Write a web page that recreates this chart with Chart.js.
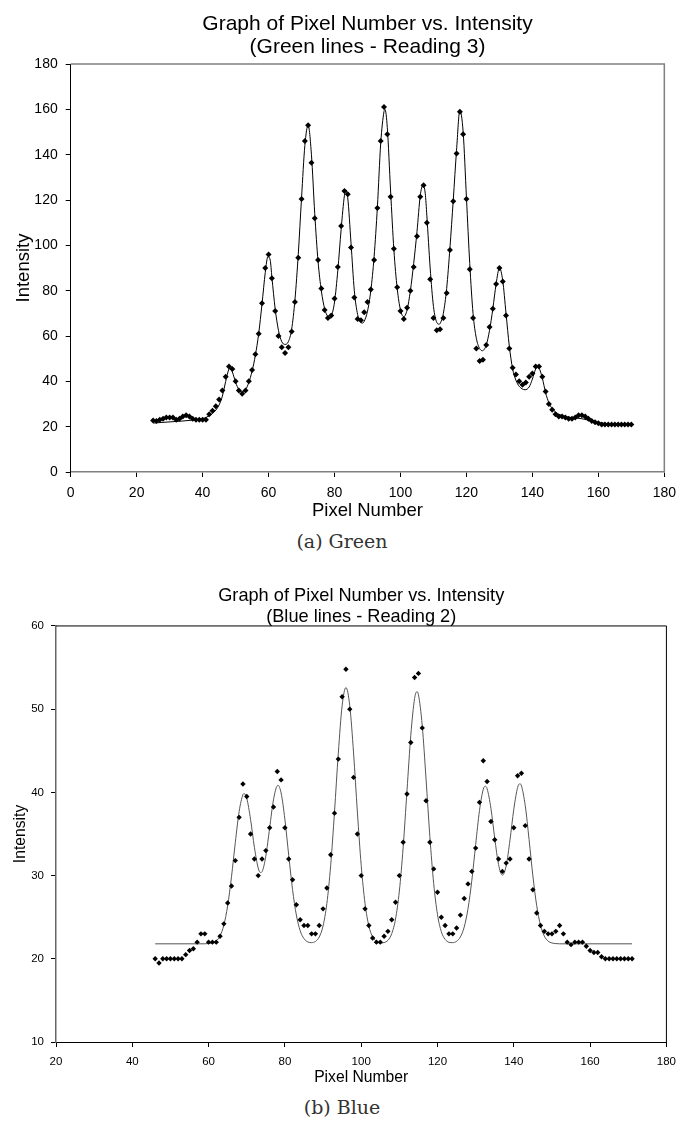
<!DOCTYPE html>
<html>
<head>
    <meta charset="utf-8">
    <title>Graph of Pixel Number vs. Intensity</title>
    <script src="https://cdn.jsdelivr.net/npm/chart.js"></script>
    <style>
        body { margin: 0; background: #fff; width: 684px; height: 1124px; position: relative; overflow: hidden; }
        .chartBox { position: absolute; left: 0; width: 684px; }
        #greenBox { top: 0; height: 522px; }
        #blueBox { top: 560px; height: 528px; }
        .caption { position: absolute; left: 0; width: 684px; text-align: center; font-family: "DejaVu Serif", serif; font-size: 19px; line-height: 22px; color: #333; }
    </style>
</head>
<body>
    <div class="chartBox" id="greenBox"><canvas id="greenChart" width="684" height="522"></canvas></div>
    <div class="caption" style="top:530px">(a) Green</div>
    <div class="chartBox" id="blueBox"><canvas id="blueChart" width="684" height="528"></canvas></div>
    <div class="caption" style="top:1096px">(b) Blue</div>

    <script>
        // Green lines - reading 3 (measured points)
        var greenPixel = [25, 26, 27, 28, 29, 30, 31, 32, 33, 34,
            35, 36, 37, 38, 39, 40, 41, 42, 43, 44,
            45, 46, 47, 48, 49, 50, 51, 52, 53, 54,
            55, 56, 57, 58, 59, 60, 61, 62, 63, 64,
            65, 66, 67, 68, 69, 70, 71, 72, 73, 74,
            75, 76, 77, 78, 79, 80, 81, 82, 83, 84,
            85, 86, 87, 88, 89, 90, 91, 92, 93, 94,
            95, 96, 97, 98, 99, 100, 101, 102, 103, 104,
            105, 106, 107, 108, 109, 110, 111, 112, 113, 114,
            115, 116, 117, 118, 119, 120, 121, 122, 123, 124,
            125, 126, 127, 128, 129, 130, 131, 132, 133, 134,
            135, 136, 137, 138, 139, 140, 141, 142, 143, 144,
            145, 146, 147, 148, 149, 150, 151, 152, 153, 154,
            155, 156, 157, 158, 159, 160, 161, 162, 163, 164,
            165, 166, 167, 168, 169, 170];
        var greenIntensity = [22.7, 22.5, 23, 23.5, 24, 24, 24, 23, 23.5, 24.5,
            25, 24.5, 23.5, 23, 23, 23, 23, 25.5, 27, 29,
            32, 36, 42, 46.5, 45.5, 40, 36, 34.5, 36, 40,
            45, 52, 61, 74.5, 90, 96, 85.5, 71, 60, 55,
            52.5, 55, 62, 75, 94.5, 120.5, 146, 153, 136.5, 112,
            93.5, 81, 71.5, 68, 69, 76.5, 90.5, 108.5, 124, 122.5,
            99, 77, 67.5, 67, 70.5, 75, 80.5, 93.5, 116.5, 146,
            161, 149, 121.5, 98.5, 81.5, 71, 67.5, 72.5, 80, 90.5,
            104, 121.5, 126.5, 110, 85, 68, 62.5, 63, 68, 79,
            98, 119.5, 140.5, 159, 149, 120.5, 89.5, 68, 54.5, 49,
            49.5, 56, 64, 72, 83, 90, 84, 69, 54.5, 46,
            43, 40, 38.5, 39.5, 42, 43.5, 46.5, 46.5, 42, 35.5,
            30, 27.5, 25.5, 24.5, 24.5, 24, 23.5, 23.5, 24, 25,
            25, 24.5, 23.5, 22.5, 22, 21.5, 21, 21, 21, 21,
            21, 21, 21, 21, 21, 21];

        // Green fitted curve
        var greenFitPixel = [25, 28, 31, 34, 37, 40, 42, 43, 44, 45,
            46, 47, 48, 48.3, 49, 50, 51, 52, 53, 54,
            55, 56, 57, 58, 59, 59.8, 60.5, 61, 62, 63,
            64, 65, 66, 67, 68, 69, 70, 71, 72, 73,
            74, 75, 76, 77, 78, 78.7, 79, 80, 81, 82,
            83, 83.4, 84, 85, 86, 87, 88, 88.5, 89, 90,
            91, 92, 93, 94, 95, 95.3, 96, 97, 98, 99,
            100, 101, 102, 103, 104, 105, 106, 106.8, 107.5, 108,
            109, 110, 111, 111.7, 112, 113, 114, 115, 116, 117,
            118, 119, 120, 121, 122, 123, 124, 124.8, 126, 127,
            128, 129, 130, 131, 132, 133, 134, 135, 136, 137.8,
            139, 140, 141, 141.6, 142, 143, 144, 145, 146, 147,
            148, 150, 152, 155, 158, 160, 165, 170];
        var greenFitIntensity = [21.6, 21.9, 22.2, 22.5, 22.9, 23.5, 24.8, 25.8, 27.3, 29.6,
            33.5, 40, 45.5, 45.8, 44.2, 39.6, 36.3, 35.3, 36.2, 39.5,
            44.5, 51.5, 61, 74, 88, 95, 93.5, 86, 72, 62.5,
            57.5, 56.3, 57.5, 63, 76, 96, 121, 144, 153, 140,
            114, 93, 80, 72, 68.5, 67.8, 68.5, 75, 89, 107,
            122, 124.5, 121, 101, 80, 69.5, 66, 65.7, 66.5, 71,
            80, 95, 117, 145, 159, 160, 152, 124, 98, 81,
            71.5, 68.5, 71.5, 80, 92, 106, 122, 126.5, 123, 113,
            90, 73, 66, 65.2, 65.5, 70, 81, 99, 120, 142,
            159.5, 150, 121, 92, 70, 59, 54.5, 53.5, 56, 62.5,
            72, 83, 90, 84.5, 70, 55.5, 45.5, 40.5, 37.8, 36.3,
            37.5, 41, 45.5, 46.6, 46, 41.5, 35, 30.5, 28, 26.5,
            25.5, 24.5, 24, 23.5, 22.5, 21.8, 21.2, 21];

        // Blue lines - reading 2 (measured points)
        var bluePixel = [46, 47, 48, 49, 50, 51, 52, 53, 54, 55,
            56, 57, 58, 59, 60, 61, 62, 63, 64, 65,
            66, 67, 68, 69, 70, 71, 72, 73, 74, 75,
            76, 77, 78, 79, 80, 81, 82, 83, 84, 85,
            86, 87, 88, 89, 90, 91, 92, 93, 94, 95,
            96, 97, 98, 99, 100, 101, 102, 103, 104, 105,
            106, 107, 108, 109, 110, 111, 112, 113, 114, 115,
            116, 117, 118, 119, 120, 121, 122, 123, 124, 125,
            126, 127, 128, 129, 130, 131, 132, 133, 134, 135,
            136, 137, 138, 139, 140, 141, 142, 143, 144, 145,
            146, 147, 148, 149, 150, 151, 152, 153, 154, 155,
            156, 157, 158, 159, 160, 161, 162, 163, 164, 165,
            166, 167, 168, 169, 170, 171];
        var blueIntensity = [20, 19.5, 20, 20, 20, 20, 20, 20, 20.5, 21,
            21.2, 22, 23, 23, 22, 22, 22, 22.7, 24.2, 26.7,
            28.75, 31.8, 37, 41, 39.5, 35, 32, 30, 32, 33,
            35.75, 38.25, 42.5, 41.5, 35.75, 32, 29.5, 26.5, 24.7, 24,
            24, 23, 23, 24, 26, 28.5, 32.5, 37.5, 44, 51.5,
            54.8, 50, 41.8, 35, 30, 26, 24, 22.5, 22, 22,
            22.7, 23.3, 24.7, 26.8, 30, 34, 39.8, 46, 53.8, 54.3,
            47.75, 39, 34, 30.8, 28, 25, 24, 23, 23, 23.7,
            25.25, 27.25, 29, 30.5, 33.3, 38.8, 43.8, 41.3, 36.5, 34.3,
            32, 30.5, 31.5, 32, 35.75, 42, 42.3, 36, 32, 28.3,
            25.5, 24, 23.3, 23, 23, 23.3, 24, 23, 22, 21.7,
            22, 22, 22, 21.5, 21, 20.75, 20.75, 20.25, 20, 20,
            20, 20, 20, 20, 20, 20];

        // Blue fitted curve
        var blueFitPixel = [46, 58, 60, 61, 62, 63, 64, 65, 66, 67,
            68, 69, 69.3, 70, 71, 72, 73, 73.6, 74, 75,
            76, 77, 78, 78.2, 79, 80, 81, 82, 83, 84,
            85, 86, 87, 88, 89, 90, 91, 92, 93, 94,
            95, 96, 97, 98, 99, 100, 101, 102, 103, 104,
            105, 106, 107, 108, 109, 110, 111, 112, 113, 114,
            114.6, 115, 116, 117, 118, 119, 120, 121, 122, 123,
            124, 125, 126, 127, 128, 129, 130, 131, 132, 132.5,
            133, 134, 135, 136, 137, 138, 139, 140, 141, 141.6,
            142, 143, 144, 145, 146, 147, 148, 149, 150, 151,
            152, 171];
        var blueFitIntensity = [21.8, 21.8, 21.83, 21.91, 22.15, 22.75, 24.05, 26.39, 29.85, 33.97,
            37.69, 39.72, 39.85, 39.29, 36.75, 33.41, 30.91, 30.36, 30.46, 32.34,
            35.73, 39.1, 40.81, 40.85, 39.94, 36.75, 32.44, 28.33, 25.26, 23.38,
            22.42, 22.03, 21.94, 22.09, 22.62, 23.95, 26.65, 31.23, 37.63, 44.72,
            50.41, 52.6, 50.41, 44.72, 37.63, 31.23, 26.65, 23.95, 22.62, 22.1,
            21.91, 21.95, 22.22, 23.01, 24.78, 28.14, 33.42, 40.18, 46.87, 51.3,
            52.1, 51.74, 48.01, 41.59, 34.68, 29.04, 25.31, 23.26, 22.34, 21.98,
            21.94, 22.1, 22.63, 23.82, 26.03, 29.44, 33.71, 37.81, 40.38, 40.74,
            40.44, 38.08, 34.48, 31.33, 30.04, 31.17, 34.28, 37.97, 40.59, 41.04,
            40.79, 38.41, 34.34, 29.96, 26.39, 24.02, 22.73, 22.13, 21.9, 21.83,
            21.8, 21.8];

        var sans = '"Liberation Sans", Arial, sans-serif';

        function toPoints(xs, ys) {
            return xs.map(function(x, i) { return { x: x, y: ys[i] }; });
        }

        // top and right edge of the plot area
        var framePlugin = {
            id: 'frame',
            afterDatasetsDraw: function(chart, args, opts) {
                var a = chart.chartArea;
                var c = chart.ctx;
                c.save();
                c.strokeStyle = opts.color;
                c.lineWidth = opts.width;
                c.beginPath();
                c.moveTo(a.left, a.top);
                c.lineTo(a.right, a.top);
                c.lineTo(a.right, a.bottom);
                c.stroke();
                c.restore();
            }
        };

        function axis(min, max, step, tickSize, pad, lineColor, lineWidth, titleText, titleSize, titlePad, fit) {
            return {
                type: 'linear',
                min: min,
                max: max,
                ticks: { stepSize: step, color: '#000', padding: pad, maxRotation: 0, autoSkip: false, font: { family: sans, size: tickSize } },
                grid: { display: true, drawOnChartArea: false, drawTicks: true, tickLength: 5, tickColor: '#000', tickWidth: 1 },
                border: { display: true, color: lineColor, width: lineWidth },
                title: { display: true, text: titleText, color: '#000', padding: titlePad, font: { family: sans, size: titleSize } },
                afterFit: fit
            };
        }

        var greenChart = new Chart(document.getElementById('greenChart'), {
            type: 'scatter',
            data: {
                datasets: [{
                    data: toPoints(greenPixel, greenIntensity),
                    pointStyle: 'rectRot',
                    pointRadius: 3,
                    backgroundColor: '#000',
                    borderWidth: 0
                }, {
                    data: toPoints(greenFitPixel, greenFitIntensity),
                    showLine: true,
                    pointRadius: 0,
                    borderColor: '#000',
                    borderWidth: 1,
                    cubicInterpolationMode: 'monotone'
                }]
            },
            options: {
                responsive: false,
                animation: false,
                layout: { padding: { top: 12, left: 0, right: 13, bottom: 0 } },
                plugins: {
                    legend: { display: false },
                    tooltip: { enabled: false },
                    title: {
                        display: true,
                        fullSize: false,
                        text: ['Graph of Pixel Number vs. Intensity', '(Green lines - Reading 3)'],
                        color: '#000',
                        padding: { top: 0, bottom: 5 },
                        font: { family: sans, size: 21, weight: 'normal', lineHeight: 1.12 }
                    },
                    frame: { color: '#808080', width: 1.5 }
                },
                scales: {
                    x: axis(0, 180, 20, 14, 8, '#808080', 1.5, 'Pixel Number', 18.5, { top: 0, bottom: 0 },
                        function(s) { s.height = 50; }),
                    y: axis(0, 180, 20, 14, 8, '#000', 1, 'Intensity', 18.5, { top: 13, bottom: 0 },
                        function(s) { s.width = 70.7; })
                }
            },
            plugins: [framePlugin]
        });

        var blueChart = new Chart(document.getElementById('blueChart'), {
            type: 'scatter',
            data: {
                datasets: [{
                    data: toPoints(bluePixel, blueIntensity),
                    pointStyle: 'rectRot',
                    pointRadius: 2.7,
                    backgroundColor: '#000',
                    borderWidth: 0
                }, {
                    data: toPoints(blueFitPixel, blueFitIntensity),
                    showLine: true,
                    pointRadius: 0,
                    borderColor: '#555',
                    borderWidth: 1,
                    cubicInterpolationMode: 'monotone'
                }]
            },
            options: {
                responsive: false,
                animation: false,
                layout: { padding: { top: 25, left: 0, right: 13, bottom: 0.6 } },
                plugins: {
                    legend: { display: false },
                    tooltip: { enabled: false },
                    title: {
                        display: true,
                        fullSize: false,
                        text: ['Graph of Pixel Number vs. Intensity', '(Blue lines - Reading 2)'],
                        color: '#000',
                        padding: { top: 0, bottom: -2 },
                        font: { family: sans, size: 18.2, weight: 'normal', lineHeight: 1.18 }
                    },
                    frame: { color: '#000', width: 1 }
                },
                scales: {
                    x: axis(20, 180, 20, 11.5, 8, '#000', 1, 'Pixel Number', 15.7, { top: 0, bottom: 0 },
                        function(s) { s.height = 45.4; }),
                    y: axis(10, 60, 10, 11.5, 7, '#666', 1.5, 'Intensity', 15.7, { top: 11.6, bottom: 0 },
                        function(s) { s.width = 56; })
                }
            },
            plugins: [framePlugin]
        });
    </script>
</body>
</html>
